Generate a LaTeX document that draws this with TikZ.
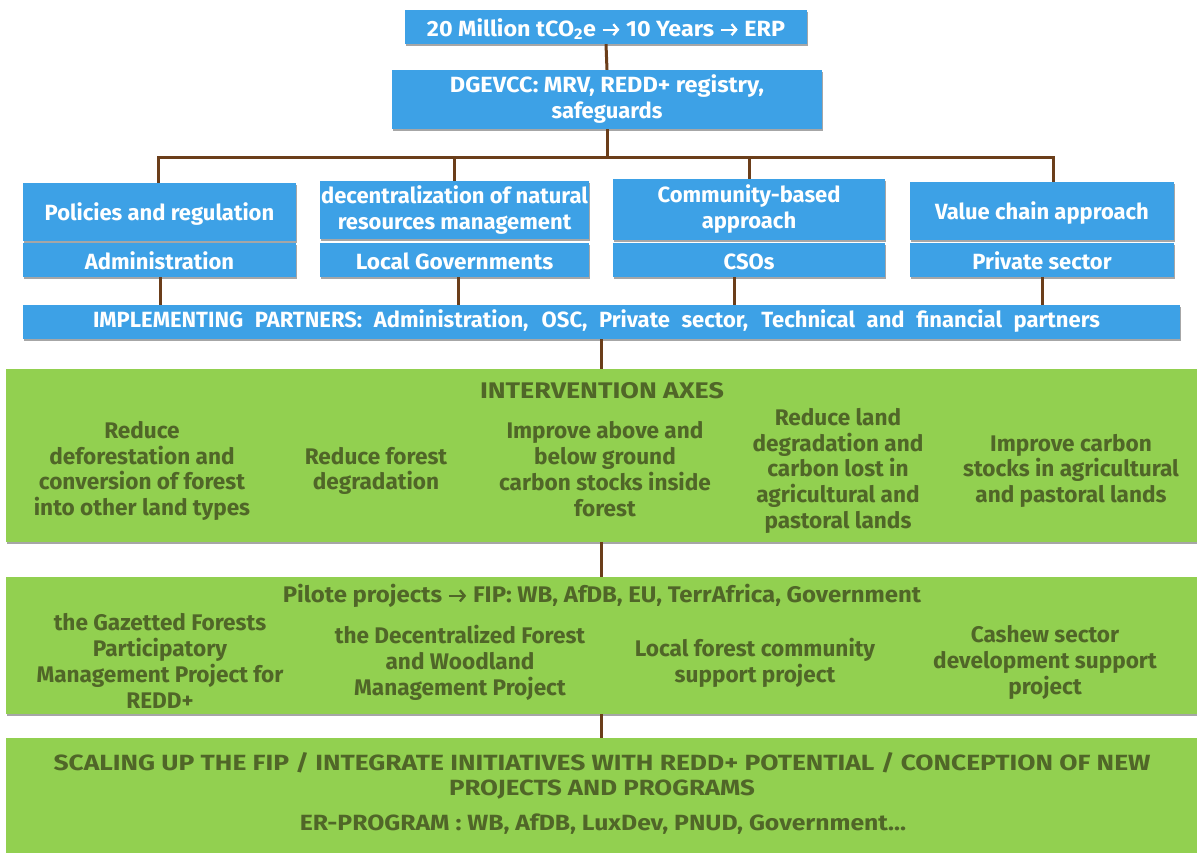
\documentclass[tikz,border=0pt]{standalone}
\usepackage{fontspec}
\usepackage{graphicx}
\setmainfont{Fira Sans}
\usetikzlibrary{shadows,arrows.meta}
\definecolor{bblue}{RGB}{61,161,230}
\definecolor{bgreen}{RGB}{146,208,80}
\definecolor{gtext}{RGB}{80,102,40}
\definecolor{linkbrown}{RGB}{107,62,26}
\newcommand\sttop{\rule{0pt}{1.0em}}
\newcommand\stbot{\rule[-0.16em]{0pt}{0.16em}}
\newcommand\wide[2]{\scalebox{#1}[1]{#2}}
\newcommand\rarr{\tikz[baseline=-0.3em]\draw[line width=0.1em,-{Straight Barb[length=0.2em,width=0.5em,line width=0.1em]}] (0,0) -- (0.72em,0);}
\tikzset{
  boxshadow/.style={drop shadow={shadow xshift=1pt, shadow yshift=-2pt, opacity=0.35, fill=black}},
  bluebox/.style={rectangle, fill=bblue, draw=none, inner sep=0pt, text=white, align=center,
    font=\bfseries\fontsize{22}{26}\selectfont, boxshadow,
    execute at begin node=\sttop, execute at end node=\stbot},
  greenbox/.style={rectangle, fill=bgreen, draw=none, inner sep=0pt, boxshadow},
  gtxt/.style={inner sep=0pt, text=gtext, align=center, font=\bfseries\fontsize{22.6}{25.8}\selectfont,
    execute at begin node=\sttop, execute at end node=\stbot},
  gbig/.style={gtxt, font=\bfseries\fontsize{22}{25.4}\selectfont},
  conn/.style={draw=linkbrown, line width=3pt},
}
\begin{document}
\begin{tikzpicture}[x=1pt,y=-1pt]
\useasboundingbox (0,0) rectangle (1197,852);
\fill[white] (0,0) rectangle (1197,852);
% blue boxes
\node[bluebox, minimum width=402, minimum height=34] (top) at (606,27) {\wide{1.06}{20 Million tCO\textsubscript{2}e \rarr{} 10 Years \rarr{} ERP}};
\node[bluebox, minimum width=430, minimum height=59] (dg) at (607,99.5) {\wide{1.07}{DGEVCC: MRV, REDD+ registry,}\\safeguards};
\node[bluebox, minimum width=273, minimum height=58] (u1) at (159.5,212) {Policies and regulation};
\node[bluebox, minimum width=269, minimum height=58] (u2) at (454.5,210) {decentralization of natural\\resources management};
\node[bluebox, minimum width=272, minimum height=61] (u3) at (749,209.5) {Community-based\\approach};
\node[bluebox, minimum width=264, minimum height=58] (u4) at (1042,211) {Value chain approach};
\node[bluebox, minimum width=273, minimum height=34] (l1) at (159.5,260) {Administration};
\node[bluebox, minimum width=269, minimum height=34] (l2) at (454.5,260) {\wide{1.03}{Local Governments}};
\node[bluebox, minimum width=272, minimum height=34] (l3) at (749,260) {CSOs};
\node[bluebox, minimum width=264, minimum height=34] (l4) at (1042,260) {Private sector};
\node[bluebox, minimum width=1157, minimum height=34] (impl) at (601.5,322) {};
\node[inner sep=0pt, text=white, font=\bfseries\fontsize{22}{26}\selectfont] (impltext) at (596.5,319.1)
  {\sttop\stbot\makebox[1007pt][s]{IMPLEMENTING PARTNERS: Administration, OSC, Private sector, Technical and financial partners}};
% green boxes
\node[greenbox, minimum width=1191, minimum height=173] (g1) at (601.5,455.5) {};
\node[greenbox, minimum width=1191, minimum height=137] (g2) at (601.5,645.5) {};
\node[greenbox, minimum width=1191, minimum height=116] (g3) at (601.5,796) {};
% green texts
\node[gtxt] (axes) at (602,388.8) {\wide{1.19}{INTERVENTION AXES}};
\node[gtxt] (a1) at (142,470.9) {Reduce\\deforestation and\\conversion of forest\\into other land types};
\node[gtxt] (a2) at (376,470.9) {Reduce forest\\degradation};
\node[gtxt] (a3) at (605,470.9) {Improve above and\\below ground\\carbon stocks inside\\forest};
\node[gtxt] (a4) at (838,470.9) {Reduce land\\degradation and\\carbon lost in\\agricultural and\\pastoral lands};
\node[gtxt] (a5) at (1071,470.9) {Improve carbon\\stocks in agricultural\\and pastoral lands};
\node[gtxt] (pil) at (602,593.8) {\wide{1.06}{Pilote projects \rarr{} FIP: WB, AfDB, EU, TerrAfrica, Government}};
\node[gtxt] (p1) at (160,662.6) {the Gazetted Forests\\Participatory\\Management Project for\\REDD+};
\node[gtxt] (p2) at (460,662.6) {the Decentralized Forest\\and Woodland\\Management Project};
\node[gtxt] (p3) at (755,662.6) {Local forest community\\support project};
\node[gtxt] (p4) at (1045,662.6) {Cashew sector\\development support\\project};
\node[gbig] (sc) at (602,775.8) {\wide{1.2}{SCALING UP THE FIP / INTEGRATE INITIATIVES WITH REDD+ POTENTIAL / CONCEPTION OF NEW}\\\wide{1.175}{PROJECTS AND PROGRAMS}};
\node[gbig] (er) at (603,821.5) {\wide{1.125}{ER-PROGRAM : WB, AfDB, LuxDev, PNUD, Government…}};
% connectors
\coordinate (bus) at (607,157);
\draw[conn] (top.south) -- (dg.north);
\draw[conn] (dg.south) -- (bus);
\draw[conn] (bus) -| ([xshift=-1.5pt]u1.north);
\draw[conn] (bus) -| (u2.north);
\draw[conn] (bus) -| (u3.north);
\draw[conn] (bus) -| ([xshift=11pt]u4.north);
\draw[conn] ([xshift=0.5pt]l1.south) -- ([xshift=0.5pt]l1.south |- impl.north);
\draw[conn] ([xshift=3.5pt]l2.south) -- ([xshift=3.5pt]l2.south |- impl.north);
\draw[conn] ([xshift=-15pt]l3.south) -- ([xshift=-15pt]l3.south |- impl.north);
\draw[conn] (l4.south) -- (l4.south |- impl.north);
\draw[conn] (impl.south) -- (g1.north);
\draw[conn] (g1.south) -- (g2.north);
\draw[conn] (g2.south) -- (g3.north);
\end{tikzpicture}
\end{document}
